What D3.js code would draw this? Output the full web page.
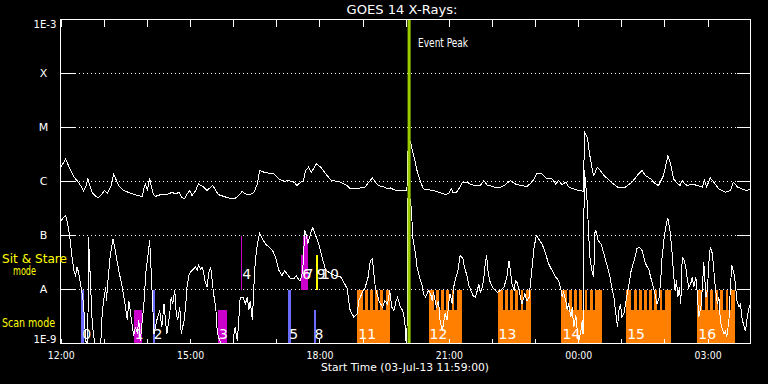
<!DOCTYPE html>
<html><head><meta charset="utf-8">
<script src="https://cdn.jsdelivr.net/npm/d3@7"></script>
<style>
html,body{margin:0;padding:0;background:#000;}
svg{display:block;}
text{font-family:"DejaVu Sans",sans-serif;font-weight:normal;}
</style></head><body>
<svg id="chart" width="768" height="384"></svg>
<script>
// ---------------- data ----------------
const startTime = "2013-07-03T11:59:00Z";
const spanMinutes = 960;
const chartTitle = "GOES 14 X-Rays:";
const xTitle = "Start Time (03-Jul-13 11:59:00)";
const yTickValues = [1e-9, 1e-8, 1e-7, 1e-6, 1e-5, 1e-4, 1e-3];
const yTickLabels = ["1E-9", "A", "B", "C", "M", "X", "1E-3"];
const modeLabels = ["Sit & Stare", "mode", "Scan mode"];
const eventPeakMinute = 485;
const eventPeakLabel = "Event Peak";

// [minutes since start, flux W/m^2]  long channel (1-8 A)
const longChannel = [[1,1.9e-6],[7,2.6e-6],[9,2.3e-6],[14,1.6e-6],[19,1.2e-6],[23,1.04e-6],[28,8.4e-7],[32,6.8e-7],[36,8.4e-7],[38,1.14e-6],[40,9.0e-7],[44,6.3e-7],[49,5.3e-7],[53,5.0e-7],[58,5.9e-7],[61,6.8e-7],[65,6.1e-7],[70,7.9e-7],[74,1.35e-6],[78,1.04e-6],[81,8.4e-7],[88,6.8e-7],[97,6.1e-7],[107,5.5e-7],[114,5.3e-7],[116,7.3e-7],[118,9.0e-7],[121,6.8e-7],[123,9.7e-7],[124,1.17e-6],[126,8.4e-7],[129,5.9e-7],[132,5.3e-7],[139,5.7e-7],[148,5.7e-7],[155,6.3e-7],[160,5.9e-7],[165,6.3e-7],[169,5.0e-7],[173,4.8e-7],[176,5.9e-7],[180,6.8e-7],[183,5.5e-7],[188,6.8e-7],[192,9.0e-7],[196,8.4e-7],[199,7.9e-7],[204,6.8e-7],[209,7.9e-7],[212,8.4e-7],[216,6.8e-7],[220,5.7e-7],[227,5.3e-7],[237,4.8e-7],[243,4.9e-7],[248,5.5e-7],[253,6.6e-7],[257,5.9e-7],[264,5.7e-7],[269,6.3e-7],[274,9.0e-7],[277,1.6e-6],[283,1.49e-6],[290,1.42e-6],[297,1.39e-6],[304,1.12e-6],[311,1.01e-6],[318,1.04e-6],[325,9.7e-7],[329,8.4e-7],[334,9.7e-7],[338,1.04e-6],[341,1.6e-6],[345,1.84e-6],[349,1.49e-6],[352,1.72e-6],[356,2.13e-6],[362,1.84e-6],[369,1.39e-6],[376,1.07e-6],[383,1.01e-6],[390,9.7e-7],[394,9.0e-7],[399,8.4e-7],[403,7.3e-7],[410,7.3e-7],[417,7.6e-7],[424,7.9e-7],[429,9.7e-7],[434,1.17e-6],[438,9.7e-7],[443,8.4e-7],[450,7.9e-7],[455,7.3e-7],[459,7.6e-7],[464,7.0e-7],[471,6.8e-7],[482,6.8e-7],[483,3.5e-6],[487,5.3e-6],[492,2.8e-6],[496,1.6e-6],[501,9.7e-7],[505,7.3e-7],[512,7.0e-7],[519,6.8e-7],[526,6.3e-7],[536,5.7e-7],[540,6.0e-7],[544,7.3e-7],[546,6.3e-7],[551,6.3e-7],[556,7.9e-7],[559,9.7e-7],[566,9.7e-7],[570,9.0e-7],[577,8.4e-7],[584,8.4e-7],[589,1.04e-6],[594,8.4e-7],[598,8.4e-7],[603,7.9e-7],[610,7.6e-7],[617,8.4e-7],[626,1.04e-6],[633,9.0e-7],[640,8.4e-7],[649,8.1e-7],[656,9.7e-7],[663,1.42e-6],[670,1.39e-6],[677,1.12e-6],[684,1.12e-6],[689,9.0e-7],[693,1.04e-6],[698,8.7e-7],[703,9.7e-7],[707,7.9e-7],[714,7.3e-7],[721,6.8e-7],[727,6.6e-7],[728,1.2e-6],[729,8.2e-6],[733,6.6e-6],[736,3.3e-6],[740,1.6e-6],[742,1.29e-6],[747,1.84e-6],[751,1.6e-6],[756,1.29e-6],[763,1.07e-6],[770,8.8e-7],[777,7.6e-7],[786,7.9e-7],[795,9.7e-7],[805,1.42e-6],[809,1.6e-6],[814,1.29e-6],[821,1.12e-6],[828,9.0e-7],[832,8.4e-7],[839,1.29e-6],[845,3.0e-6],[849,2.1e-6],[853,1.12e-6],[858,9.3e-7],[862,8.4e-7],[865,1.04e-6],[868,9.2e-7],[872,8.4e-7],[879,9.0e-7],[886,8.4e-7],[893,7.9e-7],[896,1.04e-6],[899,7.9e-7],[904,1.17e-6],[909,9.7e-7],[916,7.3e-7],[925,6.3e-7],[932,6.8e-7],[936,9.7e-7],[942,7.9e-7],[948,7.3e-7],[955,6.8e-7],[960,7.3e-7]];

// short channel (0.5-4 A)
const shortChannel = [[1,1.9e-7],[5,2.2e-7],[7,2.35e-7],[9,1.9e-7],[12,1.15e-7],[14,7.0e-8],[16,4.0e-8],[19,2.1e-8],[21,1.8e-8],[23,2.6e-8],[25,2.1e-8],[27,1.47e-8],[29,1.03e-8],[31,7.2e-9],[33,3.5e-9],[34,2.0e-9],[35,1.1e-9],[38,1e-9],[39,9.3e-8],[42,1.1e-8],[44,2.7e-9],[46,1.4e-9],[48,1e-9],[56,1e-9],[58,3.6e-9],[60,6.2e-9],[63,1.1e-8],[64,6.2e-9],[66,1.47e-8],[69,4.0e-8],[73,8.7e-8],[77,4.6e-8],[81,2.25e-8],[86,1.1e-8],[89,6.2e-9],[93,2.7e-9],[95,6.2e-9],[97,4.1e-9],[100,2.0e-9],[102,1.4e-9],[104,2.0e-9],[107,1.6e-9],[109,2.7e-9],[111,1.1e-9],[116,5.4e-9],[119,2.25e-8],[122,4.6e-8],[124,8.1e-8],[125,4.6e-8],[128,6.2e-9],[130,1.5e-9],[134,2.7e-9],[138,4.1e-9],[141,2.0e-9],[144,5.4e-9],[146,2.7e-9],[148,1.5e-9],[152,3.6e-9],[154,7.2e-9],[156,5.4e-9],[159,9.6e-9],[161,3.6e-9],[163,2.7e-9],[166,4.7e-9],[168,1.5e-9],[172,2.7e-9],[174,4.7e-9],[176,1.1e-8],[179,1.95e-8],[183,2.25e-8],[188,2.6e-8],[190,2.25e-8],[192,2.8e-8],[195,2.4e-8],[197,2.6e-8],[199,2.1e-8],[201,1.47e-8],[204,1.1e-8],[206,1.95e-8],[209,2.6e-8],[211,1.47e-8],[213,8.3e-9],[216,4.7e-9],[218,1.7e-9],[220,1.3e-9],[223,1e-9],[240,1e-9],[241,1.4e-9],[243,2.0e-9],[246,1.1e-9],[248,2.7e-9],[250,7.2e-9],[254,7.2e-9],[257,5.4e-9],[260,7.2e-9],[262,4.1e-9],[264,6.2e-9],[267,2.7e-9],[269,1.1e-8],[271,3.4e-8],[274,7.0e-8],[277,1.1e-7],[281,8.7e-8],[285,7.0e-8],[290,6.1e-8],[295,5.3e-8],[299,4.0e-8],[304,2.25e-8],[308,1.8e-8],[312,2.25e-8],[315,1.95e-8],[320,1.6e-8],[325,1.6e-8],[328,1.8e-8],[332,1.47e-8],[334,1.47e-8],[337,2.25e-8],[340,1.24e-7],[342,1.0e-7],[344,7.1e-8],[348,1.09e-7],[351,1.41e-7],[355,1.0e-7],[359,7.1e-8],[364,3.9e-8],[369,2.25e-8],[376,2.0e-8],[383,1.8e-8],[390,1.7e-8],[394,1.37e-8],[399,1.03e-8],[401,6.2e-9],[403,4.1e-9],[408,3.1e-9],[413,3.6e-9],[415,6.2e-9],[420,8.9e-9],[424,1.1e-8],[428,1.7e-8],[431,3.4e-8],[434,3.7e-8],[436,1.95e-8],[438,1.1e-8],[443,6.2e-9],[448,4.7e-9],[451,6.2e-9],[455,5.4e-9],[458,9.6e-9],[461,4.7e-9],[464,4.1e-9],[467,6.2e-9],[469,7.2e-9],[473,4.7e-9],[476,4.1e-9],[479,2.7e-9],[480,1.4e-9],[481,1e-9],[482,1e-9],[483,4.5e-7],[485,6.2e-7],[488,3.3e-7],[489,1.9e-7],[490,9.3e-8],[494,4.6e-8],[496,2.6e-8],[500,1.6e-8],[503,1.2e-8],[505,8.3e-9],[508,7.2e-9],[512,9.6e-9],[515,8.3e-9],[517,6.2e-9],[519,8.9e-9],[523,4.7e-9],[526,6.2e-9],[528,2.7e-9],[531,1.7e-9],[533,2.35e-9],[535,3.6e-9],[538,2.7e-9],[540,5.4e-9],[542,8.3e-9],[545,5.5e-9],[547,1.1e-8],[549,1.47e-8],[553,2.25e-8],[556,4.3e-8],[560,3.7e-8],[562,2.6e-8],[566,1.7e-8],[568,1.2e-8],[571,9.6e-9],[574,7.7e-9],[577,7.2e-9],[580,9.6e-9],[582,1.27e-8],[584,8.9e-9],[587,1.1e-8],[589,1.7e-8],[591,3.0e-8],[593,4.3e-8],[594,2.6e-8],[597,1.47e-8],[601,1.1e-8],[608,8.9e-9],[612,9.6e-9],[617,1.1e-8],[621,1.7e-8],[624,3.4e-8],[626,2.25e-8],[628,1.27e-8],[631,9.6e-9],[633,1.47e-8],[635,1.37e-8],[638,9.6e-9],[640,7.2e-9],[642,5.4e-9],[646,8.3e-9],[649,6.2e-9],[652,7.2e-9],[655,1.8e-8],[659,6.1e-8],[662,1.0e-7],[665,8.7e-8],[670,7.0e-8],[675,4.6e-8],[679,3.0e-8],[684,2.25e-8],[689,1.7e-8],[693,1.47e-8],[696,1.03e-8],[698,7.2e-9],[700,8.9e-9],[703,6.2e-9],[705,4.1e-9],[707,5.5e-9],[710,3.1e-9],[712,4.7e-9],[714,2.0e-9],[717,3.3e-9],[719,1.7e-9],[721,1.1e-9],[724,1.7e-9],[726,2.7e-9],[727,1.5e-9],[728,1.24e-7],[729,1.6e-6],[733,3.9e-7],[735,9.2e-8],[737,3.4e-8],[740,2.0e-8],[742,1.7e-8],[743,1.09e-7],[745,1.24e-7],[748,8.1e-8],[752,7.0e-8],[756,4.6e-8],[761,2.6e-8],[765,1.6e-8],[767,1.1e-8],[770,7.2e-9],[772,4.1e-9],[775,2.0e-9],[777,4.1e-9],[779,5.4e-9],[781,3.1e-9],[784,3.6e-9],[786,5.4e-9],[791,1.27e-8],[794,2.25e-8],[798,3.4e-8],[802,5.7e-8],[805,6.1e-8],[809,5.3e-8],[814,3.0e-8],[819,2.25e-8],[821,1.7e-8],[825,1.1e-8],[827,8.3e-9],[830,5.4e-9],[833,7.2e-9],[835,1.47e-8],[837,4.0e-8],[840,9.3e-8],[843,1.65e-7],[845,2.1e-7],[848,1.24e-7],[851,4.6e-8],[853,1.95e-8],[855,9.6e-9],[857,1.47e-8],[859,7.2e-9],[861,1.1e-8],[863,5.4e-9],[865,4.0e-8],[867,3.7e-8],[870,2.6e-8],[872,1.6e-8],[874,1.1e-8],[877,1.3e-8],[879,1.7e-8],[881,1.1e-8],[884,1.7e-8],[886,8.3e-9],[888,3.1e-9],[891,4.7e-9],[893,1.1e-8],[895,3.2e-8],[898,7.2e-9],[900,9.6e-9],[902,3.0e-8],[904,6.1e-8],[907,4.6e-8],[909,2.25e-8],[911,1.1e-8],[914,5.4e-9],[916,7.2e-9],[918,2.7e-9],[920,2.0e-9],[923,1.5e-9],[925,1.7e-9],[927,1.3e-9],[930,2.7e-9],[932,1.1e-8],[934,2.8e-8],[937,1.95e-8],[939,1.27e-8],[941,6.2e-9],[944,4.7e-9],[946,5.5e-9],[948,3.1e-9],[950,2.3e-9],[953,1.7e-9],[955,2.7e-9],[957,4.1e-9],[960,5.4e-9]];

// observation markers
const markerLabels = ["0","1","2","3","4","5","6","7","8","9","10","11","12","13","14","15","16"];
const markerStart  = [29,102,128,219,251.5,317,335,338,352,355,361,413,512,608,697,787,886];
const markerEnd    = [33,113,132,231,252.9,321,344,344,356,358.5,361,458,559,655,753,849,938];
const markerLow    = [1e-9,1e-9,1e-9,1e-9,1e-8,1e-9,1e-8,1e-8,1e-9,1e-8,1e-8,1e-9,1e-9,1e-9,1e-9,1e-9,1e-9];
const markerHigh   = [1e-8,4.1e-9,1e-8,4.1e-9,1e-7,1e-8,4.3e-8,1e-7,4.1e-9,4.3e-8,1e-8,1e-8,1e-8,1e-8,1e-8,1e-8,1e-8];
const markerKind   = ["scanA","sitB","scanA","sitB","sitB","scanA","sitB","sitB","scanA","sitC","sitC","raster","raster","raster","raster","raster","raster"];
const rasterBaseTop = 4.1e-9;
const rasterStepMinutes = 7.2;
const rasterGapMinutes = 3.4;

// ---------------- drawing ----------------
const svg = d3.select("#chart");
svg.append("rect").attr("width",768).attr("height",384).attr("fill","#000");

const t0 = Date.parse(startTime);
const toDate = m => new Date(t0 + m * 60000);
const L = 60.5, R = 750.5, T = 19.5, B = 343.5;
const x = d3.scaleUtc().domain([toDate(0), toDate(spanMinutes)]).range([L, R]);
const y = d3.scaleLog().domain([1e-9, 1e-3]).range([B, T]);

const kindColor = {scanA:"#6b6bff", sitB:"#cc00cc", sitC:"#ffff00", raster:"#ff8000"};

svg.append("clipPath").attr("id","plotclip").append("rect")
  .attr("x",L).attr("y",T).attr("width",R-L).attr("height",B-T);

// dotted grid
svg.append("g").selectAll("line").data(yTickValues.slice(1,-1)).join("line")
  .attr("x1",L).attr("x2",R).attr("y1",d=>y(d)).attr("y2",d=>y(d))
  .attr("stroke","#fff").attr("stroke-width",1).attr("stroke-dasharray","1,3")
  .attr("stroke-dashoffset",-2).attr("shape-rendering","crispEdges");

// markers
const mk = markerLabels.map((lab,i)=>({lab, s:markerStart[i], e:markerEnd[i], lo:markerLow[i], hi:markerHigh[i], kind:markerKind[i]}));
const mg = svg.append("g").attr("clip-path","url(#plotclip)");
mk.forEach(d=>{
  const x0 = x(toDate(d.s)), x1 = x(toDate(d.e));
  if (d.e > d.s) {
    mg.append("rect").attr("x",x0).attr("width",Math.max(1,x1-x0))
      .attr("y",y(d.hi)).attr("height",y(d.lo)-y(d.hi))
      .attr("fill",kindColor[d.kind]).attr("shape-rendering","crispEdges");
  }
  if (d.kind === "raster") {
    for (let t = d.s + rasterStepMinutes; t + rasterGapMinutes <= d.e - 3; t += rasterStepMinutes) {
      const gx0 = x(toDate(t)), gx1 = x(toDate(t + rasterGapMinutes));
      mg.append("rect").attr("x",gx0).attr("width",gx1-gx0)
        .attr("y",y(d.hi)).attr("height",y(rasterBaseTop)-y(d.hi))
        .attr("fill","#000").attr("shape-rendering","crispEdges");
    }
  }
});
// marker labels
svg.append("g").selectAll("text").data(mk).join("text")
  .attr("x",d=>x(toDate(d.s))+1)
  .attr("y",d=> d.lo <= 1e-9 ? y(d.lo)-5 : y(d.lo)-11)
  .attr("font-size",14).style("fill","#fff").text(d=>d.lab);

// curves
const line = d3.line().x(d=>x(toDate(d[0]))).y(d=>y(Math.max(d[1],1e-9)));
const cg = svg.append("g").attr("clip-path","url(#plotclip)");
[longChannel, shortChannel].forEach(series=>{
  cg.append("path").datum(series).attr("d",line)
    .attr("fill","none").attr("stroke","#fff").attr("stroke-width",1)
    .attr("shape-rendering","crispEdges");
});

// event peak
const ex = x(toDate(eventPeakMinute));
svg.append("line").attr("x1",ex).attr("x2",ex).attr("y1",T-0.5).attr("y2",B)
  .attr("stroke","#9acd00").attr("stroke-width",3);
svg.append("text").attr("x",ex+9).attr("y",46.5).attr("font-size",11.5).style("fill","#fff")
  .attr("textLength",50).attr("lengthAdjust","spacingAndGlyphs").text(eventPeakLabel);

// axes
const hours = d3.utcHour.every(1);
const fmt = d3.utcFormat("%H:%M");
const topAxis = svg.append("g").attr("transform",`translate(0,${T})`)
  .call(d3.axisTop(x).ticks(hours).tickSizeInner(-7).tickSizeOuter(0).tickFormat("").offset(0));
const botAxis = svg.append("g").attr("transform",`translate(0,${B})`)
  .call(d3.axisBottom(x).ticks(hours).tickSizeInner(-5).tickSizeOuter(0).offset(0)
    .tickFormat(d=> d.getUTCHours()%3===0 ? fmt(d) : ""));
botAxis.selectAll("text").attr("dy",null).attr("y",15.5).attr("font-size",11)
  .style("fill","#fff").attr("font-family","DejaVu Sans")
  .each(function(){ if (this.textContent) d3.select(this).attr("textLength",27).attr("lengthAdjust","spacingAndGlyphs"); });

const leftAxis = svg.append("g").attr("transform",`translate(${L},0)`)
  .call(d3.axisLeft(y).tickValues(yTickValues).tickSizeInner(-14).tickSizeOuter(0).offset(0)
    .tickFormat((d,i)=>yTickLabels[i]));
leftAxis.selectAll("text").each(function(d,i){
  const s = d3.select(this).style("fill","#fff").attr("font-family","DejaVu Sans").attr("font-size",11);
  const lab = yTickLabels[i];
  if (lab.length > 1) {
    s.attr("text-anchor","end").attr("x",-4).attr("textLength",23).attr("lengthAdjust","spacingAndGlyphs");
    s.attr("dy", i === 0 ? "-0.05em" : "0.75em");
  } else {
    s.attr("text-anchor","middle").attr("x",-17).attr("dy","0.36em");
  }
});
const rightAxis = svg.append("g").attr("transform",`translate(${R},0)`)
  .call(d3.axisRight(y).tickValues(yTickValues).tickSizeInner(-14).tickSizeOuter(0).offset(0).tickFormat(""));

[topAxis,botAxis,leftAxis,rightAxis].forEach(g=>{
  g.select(".domain").remove();
  g.selectAll(".tick line").attr("stroke","#fff").attr("shape-rendering","crispEdges");
});

// frame
svg.append("rect").attr("x",L).attr("y",T).attr("width",R-L).attr("height",B-T)
  .attr("fill","none").attr("stroke","#fff").attr("stroke-width",1).attr("shape-rendering","crispEdges");

// titles
svg.append("text").attr("x",402).attr("y",14).attr("text-anchor","middle").attr("font-size",13).style("fill","#fff")
  .attr("textLength",111).attr("lengthAdjust","spacingAndGlyphs").text(chartTitle);
svg.append("text").attr("x",405).attr("y",371).attr("text-anchor","middle").attr("font-size",11).style("fill","#fff")
  .attr("textLength",168).attr("lengthAdjust","spacingAndGlyphs").text(xTitle);

// mode labels
const ml = svg.append("g").attr("font-size",11.5);
ml.append("text").attr("x",2).attr("y",262.5).style("fill","#ffff00")
  .attr("textLength",65).attr("lengthAdjust","spacingAndGlyphs").text(modeLabels[0]);
ml.append("text").attr("x",24.5).attr("y",275).attr("text-anchor","middle").style("fill","#ffff00")
  .attr("textLength",23).attr("lengthAdjust","spacingAndGlyphs").text(modeLabels[1]);
ml.append("text").attr("x",2).attr("y",327).style("fill","#ffff00")
  .attr("textLength",53).attr("lengthAdjust","spacingAndGlyphs").text(modeLabels[2]);
</script>
</body></html>
